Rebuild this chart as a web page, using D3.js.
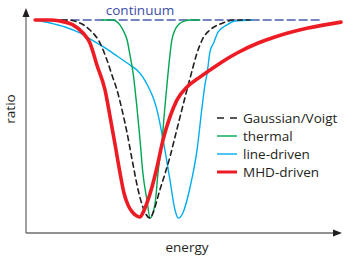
<!DOCTYPE html>
<html>
<head>
<meta charset="utf-8">
<title>Absorption line profiles</title>
<script src="https://d3js.org/d3.v7.min.js"></script>
<style>
	body {
		margin: 0;
		background: #fff;
		font-family: "Open Sans", sans-serif;
	}

	.curve {
		fill: none;
		stroke-linejoin: round;
		stroke-linecap: round;
	}

	.label {
		font-size: 13.5px;
		fill: #231f20;
	}
</style>
</head>
<body>
</body>
<script>
	var width = 349,
			height = 271;

	// profiles: [energy, ratio]
	var continuum = [[2.9, 1.0], [94.3, 1.0]];

	var gaussian = [
		[2.9, 1.0], [13.0, 1.0], [17.1, 0.986], [20.3, 0.953], [23.5, 0.892], [25.7, 0.812],
		[27.6, 0.728], [28.9, 0.671], [30.5, 0.577], [32.1, 0.469], [33.7, 0.343], [35.6, 0.202],
		[37.1, 0.122], [39.4, 0.070], [40.3, 0.094], [42.5, 0.202], [44.1, 0.277], [45.7, 0.357],
		[47.3, 0.451], [48.9, 0.545], [50.5, 0.638], [52.1, 0.728], [54.3, 0.845], [56.2, 0.915],
		[58.4, 0.953], [62.5, 0.986], [66.3, 1.0], [71.1, 1.0]
	];

	var thermal = [
		[24.1, 1.0], [27.6, 1.0], [28.9, 0.991], [29.8, 0.977], [31.1, 0.944], [32.1, 0.906],
		[33.0, 0.836], [34.0, 0.751], [35.2, 0.592], [36.2, 0.437], [37.1, 0.282], [38.4, 0.155],
		[39.4, 0.070], [41.0, 0.141], [41.9, 0.282], [43.2, 0.437], [44.1, 0.592], [45.1, 0.751],
		[46.3, 0.906], [47.3, 0.953], [48.6, 0.981], [50.2, 0.995], [52.1, 1.0], [55.2, 1.0]
	];

	var lineDriven = [
		[2.9, 1.0], [7.6, 0.986], [12.4, 0.967], [17.1, 0.939], [21.9, 0.897], [25.1, 0.869],
		[28.9, 0.831], [33.0, 0.789], [35.2, 0.765], [37.1, 0.732], [38.7, 0.690], [40.3, 0.638],
		[41.6, 0.577], [42.5, 0.516], [44.1, 0.390], [45.7, 0.249], [47.3, 0.108], [48.3, 0.070],
		[49.8, 0.094], [52.1, 0.216], [54.3, 0.390], [55.9, 0.592], [56.8, 0.695], [57.5, 0.751],
		[58.4, 0.850], [59.7, 0.897], [61.0, 0.944], [63.8, 0.977], [66.3, 0.995], [71.7, 1.0]
	];

	var mhdDriven = [
		[2.9, 1.0], [7.6, 1.0], [10.8, 0.995], [14.9, 0.977], [18.1, 0.939], [20.3, 0.892],
		[22.5, 0.789], [25.1, 0.671], [26.7, 0.545], [28.3, 0.413], [29.8, 0.286], [31.1, 0.188],
		[32.4, 0.131], [33.7, 0.099], [35.2, 0.080], [36.2, 0.075], [37.1, 0.094], [38.4, 0.141],
		[40.0, 0.216], [41.6, 0.310], [43.5, 0.437], [45.7, 0.545], [47.9, 0.624], [51.1, 0.685],
		[55.2, 0.732], [58.4, 0.765], [62.2, 0.803], [67.0, 0.845], [73.7, 0.892], [79.0, 0.920],
		[89.5, 0.962], [100.0, 0.99]
	];

	var legendLabels = ["Gaussian/Voigt", "thermal", "line-driven", "MHD-driven"];

	var styles = {
		"Gaussian/Voigt": { color: "#231f20", width: 1.6, dash: "5,4" },
		"thermal": { color: "#00a651", width: 1.4, dash: null },
		"line-driven": { color: "#00aeef", width: 1.4, dash: null },
		"MHD-driven": { color: "#ed1c24", width: 3.6, dash: null }
	};

	var x = d3.scaleLinear().domain([0, 100]).range([26, 341]);
	var y = d3.scaleLinear().domain([0, 1]).range([233, 20]);

	var svg = d3.select("body").append("svg")
			.attr("width", width)
			.attr("height", height);

	var line = d3.line()
			.x(function(d) { return x(d[0]); })
			.y(function(d) { return y(d[1]); })
			.curve(d3.curveMonotoneX);

	// axes with arrow heads
	var axes = svg.append("g");
	var x0 = x.range()[0], x1 = x.range()[1], y0 = y.range()[0], y1 = y.range()[1];

	axes.append("path")
			.attr("d", "M" + x0 + "," + y0 + "V" + (y1 - 4) + "M" + x0 + "," + y0 + "H" + (x1 - 6))
			.attr("fill", "none")
			.attr("stroke", "#6d6e71")
			.attr("stroke-width", 1.3);

	axes.append("path")
			.attr("d", "M" + x0 + "," + (y1 - 12) + "l-3.5,9h7z")
			.attr("fill", "#231f20");

	axes.append("path")
			.attr("d", "M" + (x1 + 1) + "," + y0 + "l-9,-3.5v7z")
			.attr("fill", "#231f20");

	// continuum
	svg.append("path")
			.datum(continuum)
			.attr("class", "curve")
			.attr("d", line)
			.attr("stroke", "#4a5cb0")
			.attr("stroke-width", 1.4)
			.attr("stroke-linecap", "butt")
			.attr("stroke-dasharray", "8,4");

	svg.append("text")
			.attr("class", "label")
			.attr("x", 140)
			.attr("y", 15)
			.attr("text-anchor", "middle")
			.style("fill", "#3c4ea6")
			.text("continuum");

	var series = [
		{ key: "line-driven", values: lineDriven },
		{ key: "thermal", values: thermal },
		{ key: "Gaussian/Voigt", values: gaussian },
		{ key: "MHD-driven", values: mhdDriven }
	];

	svg.append("g").selectAll("path")
			.data(series)
		.enter().append("path")
			.attr("class", "curve")
			.attr("d", function(d) { return line(d.values); })
			.attr("stroke", function(d) { return styles[d.key].color; })
			.attr("stroke-width", function(d) { return styles[d.key].width; })
			.attr("stroke-dasharray", function(d) { return styles[d.key].dash; })
			.attr("stroke-linecap", function(d) { return styles[d.key].dash ? "butt" : "round"; });

	// legend
	var legend = svg.append("g")
			.attr("transform", "translate(217,118)");

	var item = legend.selectAll("g")
			.data(legendLabels)
		.enter().append("g")
			.attr("transform", function(d, i) { return "translate(0," + i * 18 + ")"; });

	item.append("line")
			.attr("x1", 0)
			.attr("x2", 20)
			.attr("stroke", function(d) { return styles[d].color; })
			.attr("stroke-width", function(d) { return d === "MHD-driven" ? 3 : styles[d].width; })
			.attr("stroke-dasharray", function(d) { return styles[d].dash ? "7,6" : null; });

	item.append("text")
			.attr("class", "label")
			.attr("x", 26)
			.attr("dy", "0.36em")
			.text(function(d) { return d; });

	// axis titles
	svg.append("text")
			.attr("class", "label")
			.attr("x", 187)
			.attr("y", 252)
			.attr("text-anchor", "middle")
			.text("energy");

	svg.append("text")
			.attr("class", "label")
			.attr("transform", "translate(15,109) rotate(-90)")
			.attr("text-anchor", "middle")
			.text("ratio");
</script>
</html>
